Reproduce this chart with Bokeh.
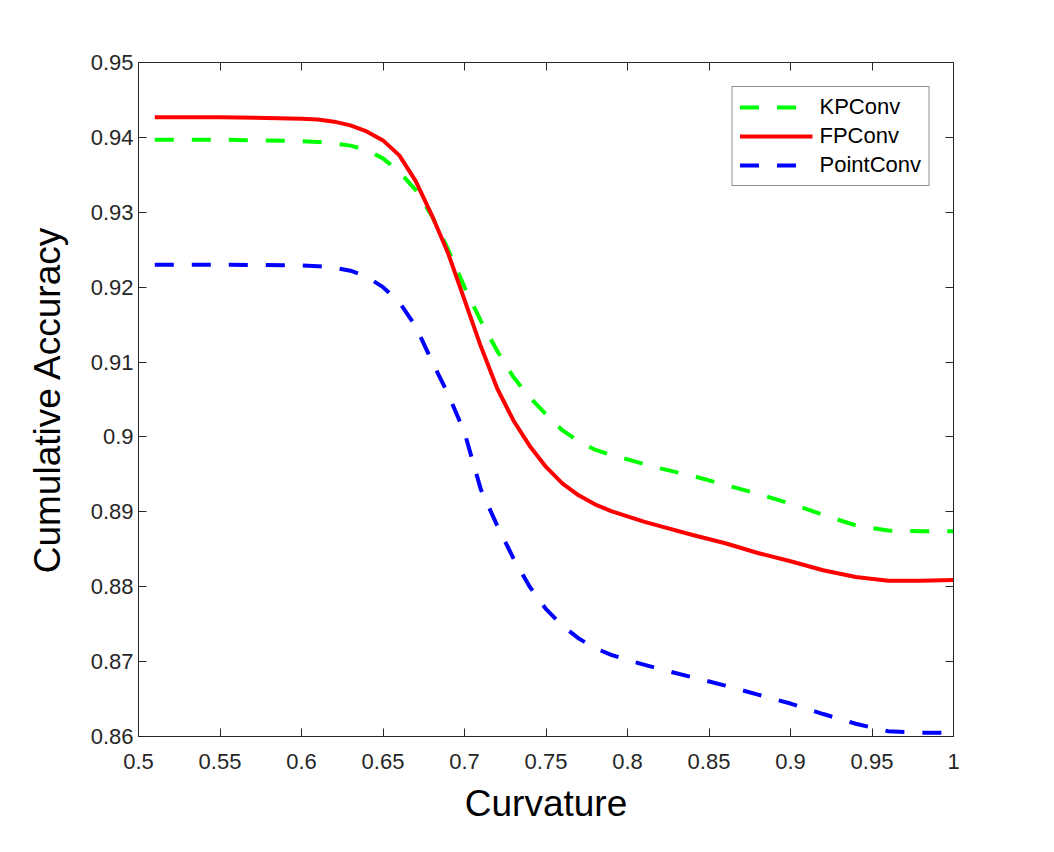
from bokeh.plotting import figure
from bokeh.models import Range1d, FixedTicker, LinearAxis
from bokeh.embed import file_html
from bokeh.resources import INLINE

# ---- data ----
curvature = [0.51, 0.55, 0.60, 0.61, 0.62, 0.63, 0.64, 0.65, 0.66, 0.67, 0.68, 0.69,
             0.70, 0.71, 0.72, 0.73, 0.74, 0.75, 0.76, 0.77, 0.78, 0.79, 0.80, 0.81,
             0.82, 0.84, 0.86, 0.88, 0.90, 0.92, 0.94, 0.96, 0.98, 1.00]

kpconv = [0.9397, 0.9397, 0.9395, 0.9394, 0.9392, 0.9389, 0.9383, 0.9372, 0.9354, 0.9330,
          0.9295, 0.9250, 0.9200, 0.9155, 0.9115, 0.9080, 0.9053, 0.9030, 0.9009, 0.8994,
          0.8983, 0.8976, 0.8970, 0.8964, 0.8958, 0.8948, 0.8936, 0.8924, 0.8911, 0.8896,
          0.8882, 0.8875, 0.8874, 0.8874]

fpconv = [0.9427, 0.9427, 0.9425, 0.9424, 0.9421, 0.9416, 0.9408, 0.9396, 0.9376, 0.9342,
          0.9296, 0.9245, 0.9183, 0.9121, 0.9065, 0.9022, 0.8988, 0.8960, 0.8938, 0.8922,
          0.8910, 0.8901, 0.8894, 0.8887, 0.8881, 0.8869, 0.8858, 0.8845, 0.8834, 0.8822,
          0.8813, 0.8808, 0.8808, 0.8809]

pointconv = [0.9230, 0.9230, 0.9229, 0.9228, 0.9226, 0.9222, 0.9214, 0.9200, 0.9180, 0.9148,
             0.9101, 0.9057, 0.9006, 0.8930, 0.8882, 0.8838, 0.8800, 0.8770, 0.8748, 0.8731,
             0.8718, 0.8709, 0.8702, 0.8696, 0.8690, 0.8679, 0.8668, 0.8656, 0.8644, 0.8630,
             0.8617, 0.8607, 0.8605, 0.8605]

x_ticks = [0.5, 0.55, 0.6, 0.65, 0.7, 0.75, 0.8, 0.85, 0.9, 0.95, 1.0]
x_tick_labels = ["0.5", "0.55", "0.6", "0.65", "0.7", "0.75", "0.8", "0.85", "0.9", "0.95", "1"]
y_ticks = [0.86, 0.87, 0.88, 0.89, 0.90, 0.91, 0.92, 0.93, 0.94, 0.95]
y_tick_labels = ["0.86", "0.87", "0.88", "0.89", "0.9", "0.91", "0.92", "0.93", "0.94", "0.95"]

FONT = "Liberation Sans"
AX = "#262626"

p = figure(width=1038, height=836, output_backend="svg", toolbar_location=None,
           x_range=Range1d(0.5, 1.0), y_range=Range1d(0.86, 0.95),
           min_border_left=138, min_border_right=85, min_border_top=62,
           min_border_bottom=100)
p.background_fill_color = "white"
p.border_fill_color = "white"
p.grid.visible = False
p.outline_line_color = AX
p.outline_line_width = 1
p.outline_line_alpha = 1

p.line(curvature, kpconv, line_color="#00ff00", line_width=4, line_dash="19 18",
       legend_label="KPConv")
p.line(curvature, fpconv, line_color="#ff0000", line_width=4, line_join="round",
       legend_label="FPConv")
p.line(curvature, pointconv, line_color="#0000ff", line_width=4, line_dash="19 18",
       legend_label="PointConv")

def style_axis(ax, ticks, labels, show_labels=True):
    ax.ticker = FixedTicker(ticks=ticks)
    if show_labels:
        ax.major_label_overrides = {t: l for t, l in zip(ticks, labels)}
    else:
        ax.major_label_overrides = {t: "" for t in ticks}
    ax.axis_line_color = AX
    ax.major_tick_line_color = AX
    ax.major_tick_in = 8
    ax.major_tick_out = 0
    ax.minor_tick_line_color = None
    ax.major_label_text_font = FONT
    ax.major_label_text_color = AX
    ax.major_label_text_font_size = "22px"

xa = p.xaxis[0]
style_axis(xa, x_ticks, x_tick_labels)
xa.major_label_standoff = 17
xa.axis_label = "Curvature"
xa.axis_label_text_font = FONT
xa.axis_label_text_font_size = "37px"
xa.axis_label_text_font_style = "normal"
xa.axis_label_text_color = "black"
xa.axis_label_standoff = 11

ya = p.yaxis[0]
style_axis(ya, y_ticks, y_tick_labels)
ya.major_label_standoff = 5
ya.axis_label = "Cumulative Accuracy"
ya.axis_label_text_font = FONT
ya.axis_label_text_font_size = "37px"
ya.axis_label_text_font_style = "normal"
ya.axis_label_text_color = "black"
ya.axis_label_standoff = 20

top_ax = LinearAxis()
style_axis(top_ax, x_ticks, x_tick_labels, show_labels=False)
top_ax.major_label_standoff = 0
p.add_layout(top_ax, "above")

right_ax = LinearAxis()
style_axis(right_ax, y_ticks, y_tick_labels, show_labels=False)
right_ax.major_label_standoff = 0
p.add_layout(right_ax, "right")

lg = p.legend[0]
lg.location = "top_right"
lg.margin = 24
lg.padding = 7
lg.spacing = 3
lg.glyph_width = 73
lg.glyph_height = 20
lg.label_height = 20
lg.label_standoff = 7
lg.label_text_font = FONT
lg.label_text_font_size = "22px"
lg.label_text_color = "black"
lg.border_line_color = AX
lg.border_line_width = 1
lg.background_fill_color = "white"
lg.background_fill_alpha = 1

open("out.html", "w").write(file_html(p, INLINE))
